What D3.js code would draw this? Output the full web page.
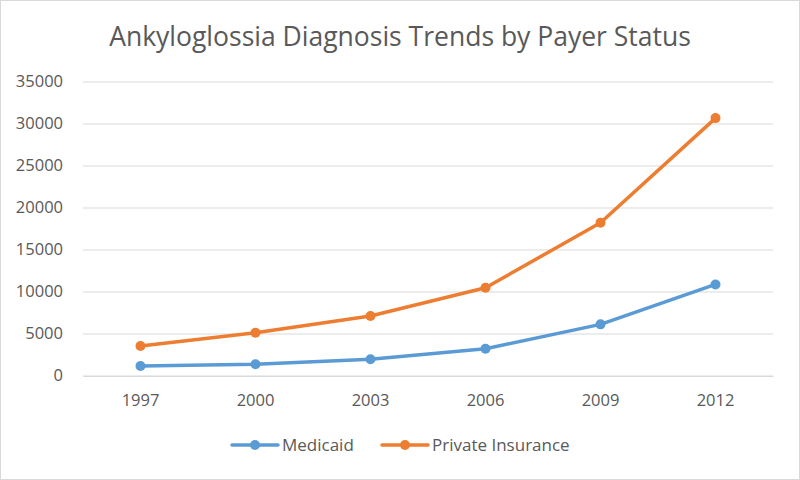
<!DOCTYPE html>
<html><head><meta charset="utf-8">
<script src="https://cdn.jsdelivr.net/npm/d3@7"></script>
<style>html,body{margin:0;padding:0;background:#fff}</style>
</head><body>
<svg id="c" width="800" height="480"></svg>
<script>
const categories = ["1997","2000","2003","2006","2009","2012"];
const medicaid = [1200, 1400, 2000, 3250, 6150, 10900];
const privateIns = [3570, 5150, 7150, 10500, 18250, 30700];
const yTicks = [0,5000,10000,15000,20000,25000,30000,35000];
const seriesNames = ["Medicaid","Private Insurance"];
const seriesColors = ["#5B9BD5","#ED7D31"];
const title = "Ankyloglossia Diagnosis Trends by Payer Status";

const svg = d3.select("#c");
const font = "'Open Sans', 'Liberation Sans', sans-serif";
svg.append("rect").attr("x",0.5).attr("y",0.5).attr("width",799).attr("height",479)
  .attr("fill","#fff").attr("stroke","#d9d9d9").attr("stroke-width",1);

const x = d3.scaleBand().domain(categories).range([83,773]);
const y = d3.scaleLinear().domain([0,35000]).range([376,82]);

// gridlines
svg.append("g").selectAll("line").data(yTicks).join("line")
  .attr("x1",83).attr("x2",773).attr("y1",d=>y(d)).attr("y2",d=>y(d))
  .attr("stroke","#d9d9d9").attr("stroke-width",1);

// y axis labels
const yAxis = d3.axisLeft(y).tickValues(yTicks).tickSize(0).tickPadding(0).tickFormat(d3.format("d"));
const yg = svg.append("g").attr("transform","translate(63,0)").call(yAxis);
yg.select(".domain").remove();
yg.selectAll("text").attr("font-family",font).attr("font-size",16.5).attr("fill","#595959")
  .attr("dy",null).attr("y",4);

// x axis
const xAxis = d3.axisBottom(x).tickSize(0).tickPadding(0);
const xg = svg.append("g").attr("transform","translate(0,376)").call(xAxis);
xg.select(".domain").attr("stroke","#d9d9d9");
xg.selectAll("text").attr("font-family",font).attr("font-size",16.5).attr("fill","#595959")
  .attr("dy",null).attr("y",30);

const data = [medicaid, privateIns];
const line = d3.line().x((d,i)=>x(categories[i])+x.bandwidth()/2).y(d=>y(d));
data.forEach((s,k)=>{
  svg.append("path").datum(s).attr("d",line).attr("fill","none")
    .attr("stroke",seriesColors[k]).attr("stroke-width",3.5).attr("stroke-linejoin","round").attr("stroke-linecap","round");
  svg.append("g").selectAll("circle").data(s).join("circle")
    .attr("cx",(d,i)=>x(categories[i])+x.bandwidth()/2).attr("cy",d=>y(d)).attr("r",5)
    .attr("fill",seriesColors[k]);
});

// title
svg.append("text").attr("x",400).attr("y",46).attr("text-anchor","middle")
  .attr("font-family",font).attr("font-size",26.5).attr("fill","#595959").text(title);

// legend
const legX = [232, 382];
seriesNames.forEach((n,k)=>{
  const g = svg.append("g");
  g.append("line").attr("x1",legX[k]).attr("x2",legX[k]+46).attr("y1",445).attr("y2",445)
    .attr("stroke",seriesColors[k]).attr("stroke-width",3.5).attr("stroke-linecap","round");
  g.append("circle").attr("cx",legX[k]+23).attr("cy",445).attr("r",5).attr("fill",seriesColors[k]);
  g.append("text").attr("x",legX[k]+50).attr("y",451).attr("font-family",font).attr("font-size",17)
    .attr("fill","#595959").text(n);
});
</script>
</body></html>
